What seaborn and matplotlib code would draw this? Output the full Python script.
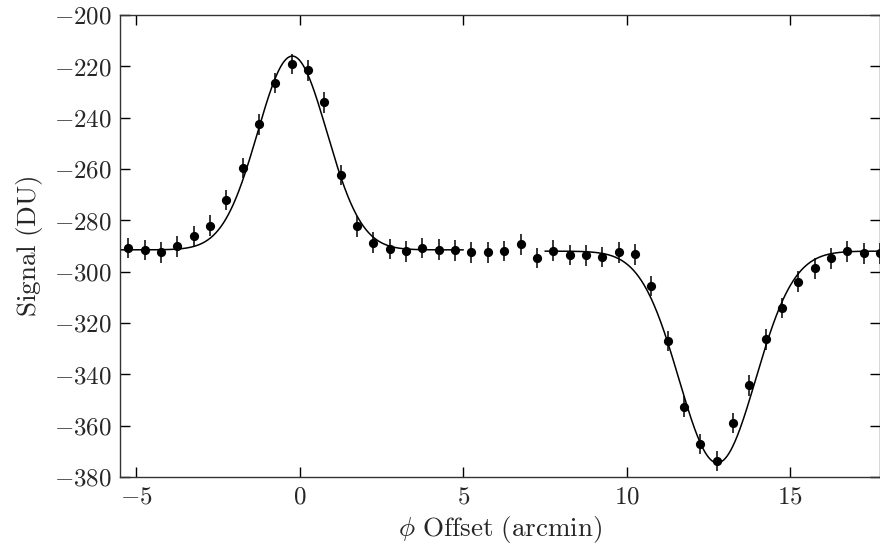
import numpy as np
import pandas as pd
import matplotlib
matplotlib.use("Agg")
import matplotlib.pyplot as plt
import seaborn as sns
from matplotlib.ticker import FuncFormatter

# ---- data ----
offset = [-5.25, -4.75, -4.25, -3.75, -3.25, -2.75, -2.25, -1.75, -1.25, -0.75,
          -0.25, 0.25, 0.75, 1.25, 1.75, 2.25, 2.75, 3.25, 3.75, 4.25,
          4.75, 5.25, 5.75, 6.25, 6.75, 7.25, 7.75, 8.25, 8.75, 9.25,
          9.75, 10.25, 10.75, 11.25, 11.75, 12.25, 12.75, 13.25, 13.75, 14.25,
          14.75, 15.25, 15.75, 16.25, 16.75, 17.25, 17.75]
signal = [-290.7, -291.6, -292.5, -290.1, -286.2, -282.1, -272.1, -259.7, -242.6, -226.5,
          -219.1, -221.6, -234.0, -262.3, -282.3, -288.7, -291.1, -292.1, -290.8, -291.4,
          -291.7, -292.5, -292.5, -292.0, -289.4, -294.6, -291.8, -293.5, -293.6, -294.2,
          -292.5, -293.3, -305.5, -327.0, -352.6, -367.2, -373.7, -358.9, -344.3, -326.4,
          -314.1, -303.9, -298.7, -294.8, -292.1, -292.9, -292.9]
signal_err = [4.0] * len(offset)

# Gaussian fit parameters (baseline, amplitude, centre, width, range)
fit1_base, fit1_amp, fit1_mu, fit1_sigma = -291.5, 75.5, -0.23, 1.06
fit1_range = (-5.5, 5.0)
fit2_base, fit2_amp, fit2_mu, fit2_sigma = -292.0, -82.5, 12.77, 1.17
fit2_range = (7.5, 17.8)

xticks = [-5, 0, 5, 10, 15]
yticks = [-380, -360, -340, -320, -300, -280, -260, -240, -220, -200]

# ---- style ----
sns.set_theme(style="ticks")
plt.rcParams["mathtext.fontset"] = "cm"
plt.rcParams["font.family"] = ["DejaVu Serif"]

fig = plt.figure(figsize=(8.8, 5.46), dpi=100)
ax = fig.add_axes([120 / 880, 1 - 477 / 546, 759.5 / 880, (477 - 15) / 546])

df = pd.DataFrame({"x": offset, "y": signal, "err": signal_err})

def gauss(x, b, a, mu, s):
    return b + a * np.exp(-(x - mu) ** 2 / (2 * s ** 2))

for (b, a, mu, s), (lo, hi) in [((fit1_base, fit1_amp, fit1_mu, fit1_sigma), fit1_range),
                                ((fit2_base, fit2_amp, fit2_mu, fit2_sigma), fit2_range)]:
    xx = np.linspace(lo, hi, 400)
    sns.lineplot(x=xx, y=gauss(xx, b, a, mu, s), ax=ax, color="black", lw=1.1)

ax.errorbar(df["x"], df["y"], yerr=df["err"], fmt="none", ecolor="black",
            elinewidth=1.1, capsize=0, zorder=3)
sns.scatterplot(data=df, x="x", y="y", ax=ax, color="black", s=44,
                edgecolor="black", linewidth=0, zorder=4, clip_on=True)

ax.set_xlim(-5.5, 17.73)
ax.set_ylim(-380, -200)
ax.set_xticks(xticks)
ax.set_yticks(yticks)
fmt = FuncFormatter(lambda v, p: r"$%d$" % v)
ax.xaxis.set_major_formatter(fmt)
ax.yaxis.set_major_formatter(fmt)
ax.tick_params(direction="in", length=7.5, width=1.0, color="black",
               top=True, right=True, labelsize=18, pad=6)
ax.minorticks_off()
for sp in ax.spines.values():
    sp.set_color("#333333")
    sp.set_linewidth(1.0)

ax.set_xlabel(r"$\phi\ \mathrm{Offset\ (arcmin)}$", fontsize=19.5, labelpad=4)
ax.set_ylabel(r"$\mathrm{Signal\ (DU)}$", fontsize=19.5, labelpad=6)

fig.savefig("out.png", dpi=100)
